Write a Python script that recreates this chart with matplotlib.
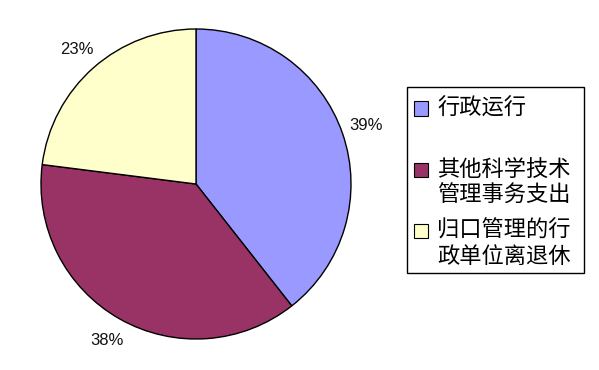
import matplotlib
matplotlib.use("Agg")
import matplotlib.pyplot as plt
from matplotlib.patches import Rectangle

# data
categories = ["行政运行", "其他科学技术\n管理事务支出", "归口管理的行\n政单位离退休"]
shares = [39.4, 37.6, 23.0]
colors = ["#9999FF", "#993366", "#FFFFCC"]

W, H = 599, 370
fig = plt.figure(figsize=(W / 100, H / 100), dpi=100)
fig.patch.set_facecolor("white")

# pie axes: centre (196,184), radius 155 px
cx, cy, r = 196, 184, 155
ax = fig.add_axes([(cx - r) / W, (H - cy - r) / H, 2 * r / W, 2 * r / H])
wedges, texts, autotexts = ax.pie(
    shares, colors=colors, startangle=90, counterclock=False,
    autopct="%.0f%%", pctdistance=1.16,
    wedgeprops=dict(edgecolor="black", linewidth=1.0),
    textprops=dict(fontsize=12, family="Liberation Sans", color="#111111"))
ax.set_xlim(-1, 1)
ax.set_ylim(-1, 1)
ax.set_aspect("equal")
ax.axis("off")

# legend box, drawn by hand to match the first-line aligned markers
def fx(px):
    return px / W

def fy(py):
    return 1 - py / H

fig.patches.append(Rectangle((fx(407), fy(273)), fx(584) - fx(407), fy(87) - fy(273),
                             transform=fig.transFigure, facecolor="white",
                             edgecolor="black", linewidth=1.0))
marker_y = [108.5, 169.5, 230.5]
for lab, col, my in zip(categories, colors, marker_y):
    fig.patches.append(Rectangle((fx(414), fy(my + 7)), fx(428) - fx(414), fy(my - 7) - fy(my + 7),
                                 transform=fig.transFigure, facecolor=col,
                                 edgecolor="black", linewidth=0.8))
    for i, line in enumerate(lab.split("\n")):
        fig.text(fx(437), fy(my + i * 26), line, fontsize=16,
                 family=["Noto Sans CJK SC", "DejaVu Sans"],
                 va="center", ha="left", color="black")

fig.savefig("out.png", dpi=100)
